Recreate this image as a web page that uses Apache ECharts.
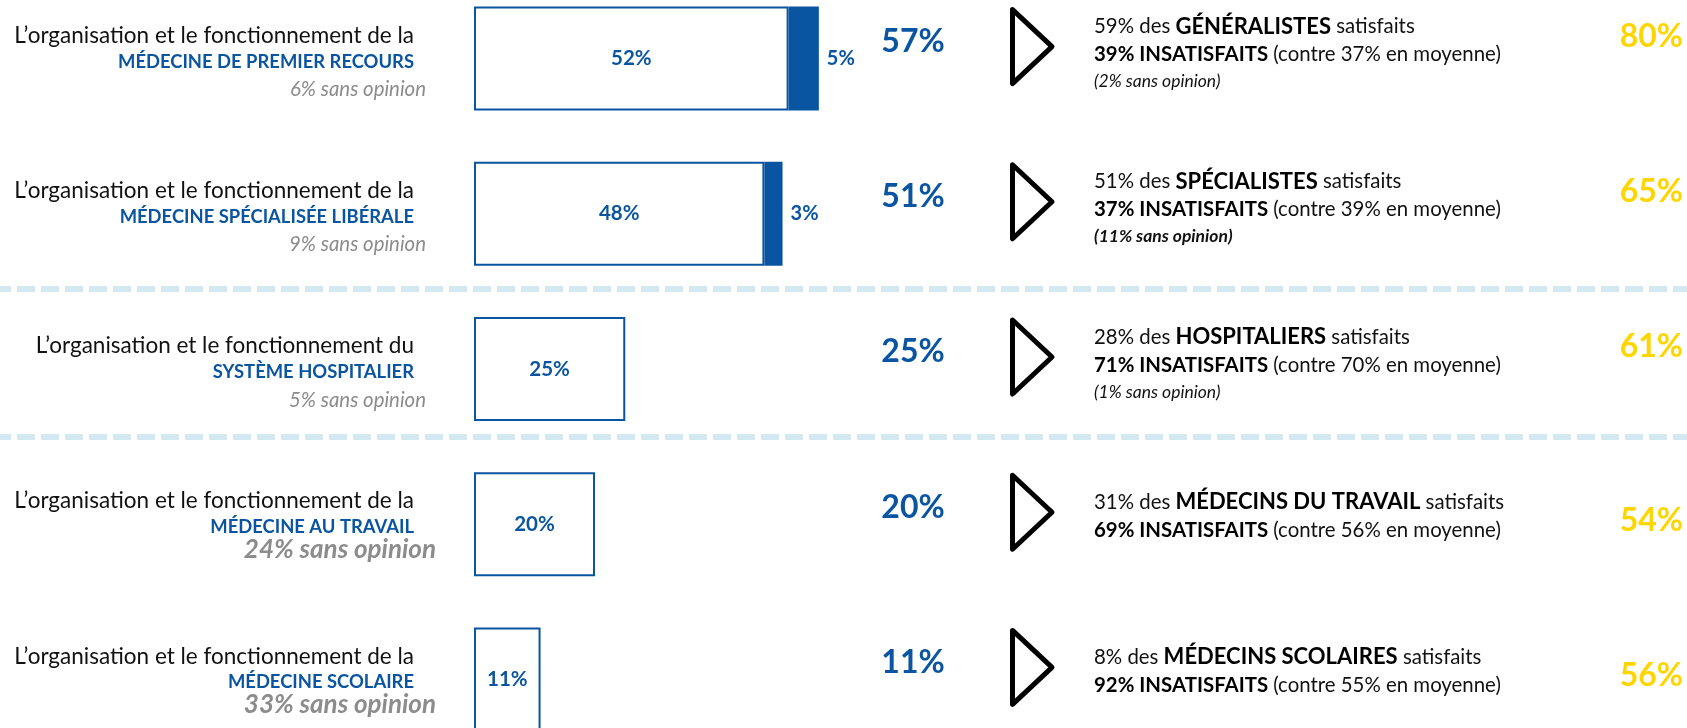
<!DOCTYPE html>
<html>
<head>
<meta charset="utf-8">
<title>Organisation et fonctionnement de la médecine</title>
<script src="https://cdn.jsdelivr.net/npm/echarts@6/dist/echarts.min.js"></script>
<style>
html, body { margin: 0; padding: 0; background: #fff; overflow: hidden; }
/* le graphique déborde en haut et en bas : la 5e barre est coupée comme dans l'original */
#chart { width: 1687px; height: 776px; margin-top: -19px; }
</style>
</head>
<body>
<div id="chart"></div>
<script>
// libellés des lignes
const introLines = [
  'L’organisation et le fonctionnement de la',
  'L’organisation et le fonctionnement de la',
  'L’organisation et le fonctionnement du',
  'L’organisation et le fonctionnement de la',
  'L’organisation et le fonctionnement de la',
]
const categories = [
  'MÉDECINE DE PREMIER RECOURS',
  'MÉDECINE SPÉCIALISÉE LIBÉRALE',
  'SYSTÈME HOSPITALIER',
  'MÉDECINE AU TRAVAIL',
  'MÉDECINE SCOLAIRE',
]
const sansOpinion = [6, 9, 5, 24, 33]

// satisfaits (ensemble)
const plutotSatisfaits = [52, 48, 25, 20, 11]
const tresSatisfaits = [5, 3, 0, 0, 0]
const totalSatisfaits = [57, 51, 25, 20, 11]

// professionnels concernés
const professions = ['GÉNÉRALISTES', 'SPÉCIALISTES', 'HOSPITALIERS', 'MÉDECINS DU TRAVAIL', 'MÉDECINS SCOLAIRES']
const proSatisfaits = [59, 51, 28, 31, 8]
const proInsatisfaits = [39, 37, 71, 69, 92]
const moyenneInsatisfaits = [37, 39, 70, 56, 55]
const proSansOpinion = [2, 11, 1, null, null]

const colonneJaune = [80, 65, 61, 54, 56]

const BLUE = '#0a55a1'
const YELLOW = '#ffd500'
const GREY = '#8c8c8c'
const FONT = 'Lato, "Open Sans", sans-serif'
const SHIFT = 19 // décalage du canvas (margin-top)

const chart = echarts.init(document.getElementById('chart'))

function renderRow(params, api) {
  const i = api.value(1)
  const y = api.coord([0, i])[1]
  const children = []

  // bloc de gauche
  children.push({
    type: 'text', x: 414, y: y - 23,
    style: { text: introLines[i], fill: '#111', font: `22.5px ${FONT}`, align: 'right', verticalAlign: 'middle' },
  })
  children.push({
    type: 'text', x: 414, y: y + 3,
    style: { text: categories[i], fill: BLUE, font: `bold 18.4px ${FONT}`, align: 'right', verticalAlign: 'middle' },
  })
  const big = sansOpinion[i] >= 20
  children.push({
    type: 'text', x: big ? 436 : 426, y: y + (big ? 25 : 31),
    style: {
      text: `${sansOpinion[i]}% sans opinion`, fill: GREY,
      font: big ? `italic bold 26px ${FONT}` : `italic 20.4px ${FONT}`,
      align: 'right', verticalAlign: 'middle',
    },
  })

  // total satisfaits
  children.push({
    type: 'text', x: 913, y: y - 17,
    style: { text: totalSatisfaits[i] + '%', fill: BLUE, font: `bold 32px ${FONT}`, align: 'center', verticalAlign: 'middle' },
  })

  // flèche
  const ty = y - 12
  children.push({
    type: 'polygon',
    shape: { points: [[1012.5, ty - 37], [1052, ty], [1012.5, ty + 37]] },
    style: { fill: 'none', stroke: '#000', lineWidth: 5, lineJoin: 'round' },
  })

  // bloc de droite
  const hasThird = proSansOpinion[i] != null
  const l1 = hasThird ? y - 32 : y - 22
  const rich = {
    n: { fontFamily: FONT, fontSize: 20.4, fill: '#111' },
    b: { fontFamily: FONT, fontSize: 22, fontWeight: 'bold', fill: '#000' },
    bb: { fontFamily: FONT, fontSize: 20.4, fontWeight: 'bold', fill: '#000' },
  }
  children.push({
    type: 'text', x: 1094, y: l1,
    style: {
      text: `{n|${proSatisfaits[i]}% des }{b|${professions[i]}}{n| satisfaits}`,
      rich, align: 'left', verticalAlign: 'middle',
    },
  })
  children.push({
    type: 'text', x: 1094, y: l1 + 28,
    style: {
      text: `{bb|${proInsatisfaits[i]}% INSATISFAITS}{n| (contre ${moyenneInsatisfaits[i]}% en moyenne)}`,
      rich, align: 'left', verticalAlign: 'middle',
    },
  })
  if (hasThird) {
    children.push({
      type: 'text', x: 1094, y: l1 + 55,
      style: {
        text: `(${proSansOpinion[i]}% sans opinion)`, fill: '#111',
        font: `italic ${proSansOpinion[i] >= 10 ? 'bold ' : ''}17.5px ${FONT}`,
        align: 'left', verticalAlign: 'middle',
      },
    })
  }

  children.push({
    type: 'text', x: 1683, y: hasThird ? y - 22 : y - 4,
    style: { text: colonneJaune[i] + '%', fill: YELLOW, font: `bold 32px ${FONT}`, align: 'right', verticalAlign: 'middle' },
  })

  return { type: 'group', children }
}

const sepStyle = { stroke: '#d4e8f1', lineWidth: 6, lineDash: [18, 6], lineDashOffset: 7 }

chart.setOption({
  animation: false,
  grid: { left: 474, width: 605, top: 0, bottom: 0 },
  xAxis: { type: 'value', min: 0, max: 100, show: false },
  yAxis: { type: 'category', data: categories, inverse: true, show: false },
  graphic: [
    { type: 'line', shape: { x1: 0, y1: 289 + SHIFT, x2: 1687, y2: 289 + SHIFT }, style: sepStyle, silent: true },
    { type: 'line', shape: { x1: 0, y1: 437 + SHIFT, x2: 1687, y2: 437 + SHIFT }, style: sepStyle, silent: true },
  ],
  series: [
    {
      name: 'Plutôt satisfaits',
      type: 'bar',
      stack: 'sat',
      barWidth: 104,
      data: plutotSatisfaits,
      itemStyle: { color: '#fff', borderColor: BLUE, borderWidth: 2 },
      label: {
        show: true, position: 'inside', formatter: '{c}%',
        color: BLUE, fontWeight: 'bold', fontSize: 20.5, fontFamily: FONT,
      },
    },
    {
      name: 'Très satisfaits',
      type: 'bar',
      stack: 'sat',
      barWidth: 104,
      data: tresSatisfaits,
      itemStyle: { color: BLUE },
      label: {
        show: true, position: 'right', distance: 8,
        formatter: (p) => (p.value > 0 ? p.value + '%' : ''),
        color: BLUE, fontWeight: 'bold', fontSize: 20, fontFamily: FONT,
      },
    },
    {
      type: 'custom',
      renderItem: renderRow,
      encode: { x: 0, y: 1 },
      data: categories.map((c, i) => [0, i]),
      z: 10,
    },
  ],
})
</script>
</body>
</html>
